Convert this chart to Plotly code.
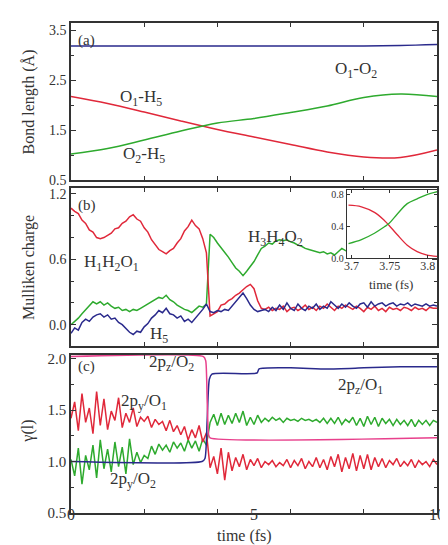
import numpy as np
import plotly.graph_objects as go

FONT = "Liberation Serif"
RED = "#e0283a"
GREEN = "#2eaa2e"
BLUE = "#2a2a8c"
MAGENTA = "#e8408c"
AX = "#333333"

# ---------------- panel (a): bond lengths ----------------
t_a = [0, 1, 2, 3, 4, 5, 6, 7, 8, 9, 10]
o1_o2 = [3.18, 3.18, 3.18, 3.18, 3.18, 3.18, 3.18, 3.18, 3.18, 3.19, 3.21]
o1_h5 = [2.17, 2.03, 1.86, 1.68, 1.51, 1.36, 1.21, 1.06, 0.96, 0.95, 1.10]
o2_h5 = [1.02, 1.13, 1.30, 1.48, 1.64, 1.73, 1.85, 1.98, 2.15, 2.22, 2.17]

# ---------------- panel (b): Mulliken charge ----------------
t_b = np.round(np.arange(0, 10.001, 0.1), 2)
h1h2o1 = [1.07, 1.04, 1.02, 0.96, 0.93, 0.87, 0.85, 0.80, 0.79, 0.80,
          0.82, 0.84, 0.88, 0.89, 0.93, 0.95, 0.99, 1.01, 0.97, 0.95,
          0.89, 0.85, 0.78, 0.74, 0.69, 0.67, 0.65, 0.68, 0.70, 0.75,
          0.79, 0.86, 0.90, 0.96, 0.91, 0.88, 0.79, 0.66, 0.08, 0.10,
          0.12, 0.18, 0.19, 0.22, 0.24, 0.27, 0.29, 0.32, 0.35, 0.37,
          0.33, 0.22, 0.15,
          0.14, 0.16, 0.13, 0.15, 0.14, 0.17, 0.12, 0.15, 0.16, 0.13,
          0.15, 0.18, 0.14, 0.16, 0.13, 0.17, 0.15, 0.19, 0.16, 0.13,
          0.17, 0.15, 0.18, 0.16, 0.14, 0.17, 0.15, 0.12, 0.16, 0.14,
          0.17, 0.13, 0.15, 0.12, 0.16, 0.14, 0.15, 0.13, 0.16, 0.15,
          0.13, 0.16, 0.14, 0.15, 0.13, 0.16, 0.15, 0.15]
h3h4o2 = [0.00, 0.03, 0.06, 0.10, 0.14, 0.18, 0.21, 0.19, 0.21, 0.18,
          0.20, 0.17, 0.15, 0.16, 0.13, 0.14, 0.12, 0.14, 0.13, 0.15,
          0.17, 0.19, 0.21, 0.23, 0.25, 0.24, 0.27, 0.23, 0.21, 0.18,
          0.16, 0.14, 0.13, 0.11, 0.14, 0.17, 0.16, 0.19,
          0.83, 0.80, 0.75, 0.71, 0.66, 0.62, 0.57, 0.52, 0.49, 0.45,
          0.49, 0.53, 0.58, 0.64, 0.70, 0.72, 0.75, 0.74, 0.77, 0.78,
          0.77, 0.78, 0.76, 0.75, 0.73, 0.72, 0.70, 0.69, 0.68, 0.67,
          0.66, 0.67, 0.65, 0.66, 0.64, 0.67, 0.70, 0.68,
          0.67, 0.66, 0.68, 0.65, 0.67, 0.66, 0.64, 0.66, 0.67, 0.65,
          0.66, 0.64, 0.66, 0.65, 0.67, 0.66, 0.64, 0.65, 0.66, 0.64,
          0.65, 0.66, 0.65, 0.64, 0.65]
h5 = [-0.08, -0.03, -0.05, 0.02, 0.05, 0.03, 0.07, 0.09, 0.10, 0.07,
      0.09, 0.05, 0.06, 0.02, 0.00, -0.04, -0.07, -0.09, -0.06, -0.07,
      -0.02, 0.01, 0.06, 0.09, 0.13, 0.11, 0.15, 0.10, 0.09, 0.06,
      0.08, 0.03, 0.05, 0.02, 0.06, 0.09, 0.14, 0.19, 0.12, 0.11,
      0.13, 0.12, 0.14, 0.13, 0.17, 0.22, 0.26, 0.29, 0.24, 0.18,
      0.14, 0.12, 0.13,
      0.14, 0.12, 0.16, 0.13, 0.18, 0.14, 0.20, 0.15, 0.13, 0.19,
      0.15, 0.13, 0.17, 0.15, 0.19, 0.14, 0.17, 0.15, 0.21, 0.18,
      0.15, 0.19, 0.16, 0.20, 0.17, 0.15, 0.19, 0.20, 0.16, 0.21,
      0.17, 0.19, 0.20, 0.17, 0.19, 0.20, 0.17, 0.19, 0.18, 0.20,
      0.17, 0.19, 0.18, 0.17, 0.19, 0.17, 0.18, 0.17]

# inset (b): zoom of the transfer
t_in = [3.696, 3.713, 3.730, 3.743, 3.749, 3.760, 3.773, 3.786, 3.798, 3.813]
in_red = [0.66, 0.64, 0.57, 0.47, 0.41, 0.29, 0.16, 0.08, 0.04, 0.02]
in_green = [0.18, 0.23, 0.31, 0.39, 0.43, 0.55, 0.68, 0.74, 0.79, 0.83]

# ---------------- panel (c): gamma(l) ----------------
t_c = np.round(np.arange(0, 10.001, 0.1), 2)
py_o1 = [1.42, 1.58, 1.30, 1.66, 1.38, 1.52, 1.27, 1.68, 1.35, 1.61,
         1.31, 1.49, 1.40, 1.62, 1.33, 1.47, 1.38, 1.52, 1.34, 1.43,
         1.39, 1.44, 1.33, 1.41, 1.36, 1.39, 1.30, 1.40, 1.29, 1.35,
         1.26, 1.34, 1.21, 1.31, 1.23, 1.35, 1.19, 1.28, 0.94, 1.05,
         0.88, 1.13, 0.82, 1.09, 0.91, 1.04, 0.95, 1.07, 0.92, 1.02,
         0.96, 1.03, 0.94, 1.00, 0.97, 1.01, 0.95, 0.99, 0.96, 1.02,
         0.94, 1.01, 0.96, 1.03, 0.93, 1.00, 0.95, 1.04, 0.94, 1.02,
         0.92, 1.05, 0.95, 1.07, 0.90, 1.04, 0.93, 1.08, 0.91, 1.06,
         0.93, 1.07, 0.92, 1.04, 0.95, 1.03, 0.94, 1.01, 0.97, 1.03,
         0.95, 1.00, 0.96, 1.02, 0.94, 1.01, 0.97, 1.00, 0.95, 1.02,
         0.97]
py_o2 = [1.02, 0.86, 1.13, 0.78, 1.06, 0.92, 1.16, 0.84, 1.21, 0.93,
         1.12, 0.90, 1.19, 0.95, 1.14, 0.88, 1.22, 0.97, 1.09, 0.99,
         1.06, 1.03, 1.15, 1.07, 1.17, 1.11, 1.16, 1.09, 1.19, 1.13,
         1.18, 1.10, 1.21, 1.13, 1.20, 1.10, 1.22, 1.16, 1.38, 1.46,
         1.35, 1.47, 1.36, 1.45, 1.37, 1.47, 1.38, 1.49, 1.35, 1.43,
         1.36, 1.45, 1.38, 1.42, 1.39, 1.43, 1.40, 1.42, 1.38, 1.42,
         1.40, 1.41, 1.39, 1.42, 1.40, 1.41, 1.39, 1.41, 1.38, 1.42,
         1.37, 1.42, 1.37, 1.43, 1.36, 1.41, 1.38, 1.43, 1.35, 1.42,
         1.34, 1.44, 1.36, 1.43, 1.34, 1.42, 1.37, 1.41, 1.35, 1.41,
         1.36, 1.40, 1.35, 1.41, 1.34, 1.40, 1.36, 1.40, 1.35, 1.40,
         1.38]
t_pz2 = [0, 3.62, 3.68, 3.72, 3.76, 3.80, 10]
pz_o2 = [2.02, 2.02, 1.98, 1.60, 1.26, 1.23, 1.23]
t_pz1 = [0, 3.58, 3.66, 3.72, 3.78, 3.85, 5.08, 5.14, 6, 7, 8, 9, 10]
pz_o1 = [1.00, 1.00, 1.03, 1.40, 1.80, 1.85, 1.86, 1.90, 1.91, 1.90, 1.91, 1.92, 1.92]

# ---------------- figure ----------------
fig = go.Figure()
line = lambda c: dict(color=c, width=1.5)

fig.add_trace(go.Scatter(x=t_a, y=o1_o2, mode="lines", line=dict(color=BLUE, width=1.5, shape="spline"), xaxis="x", yaxis="y"))
fig.add_trace(go.Scatter(x=t_a, y=o1_h5, mode="lines", line=dict(color=RED, width=1.5, shape="spline"), xaxis="x", yaxis="y"))
fig.add_trace(go.Scatter(x=t_a, y=o2_h5, mode="lines", line=dict(color=GREEN, width=1.5, shape="spline"), xaxis="x", yaxis="y"))

fig.add_trace(go.Scatter(x=t_b, y=h3h4o2, mode="lines", line=line(GREEN), xaxis="x2", yaxis="y2"))
fig.add_trace(go.Scatter(x=t_b, y=h1h2o1, mode="lines", line=line(RED), xaxis="x2", yaxis="y2"))
fig.add_trace(go.Scatter(x=t_b, y=h5, mode="lines", line=line(BLUE), xaxis="x2", yaxis="y2"))

fig.add_trace(go.Scatter(x=t_c, y=py_o2, mode="lines", line=line(GREEN), xaxis="x3", yaxis="y3"))
fig.add_trace(go.Scatter(x=t_c, y=py_o1, mode="lines", line=line(RED), xaxis="x3", yaxis="y3"))
fig.add_trace(go.Scatter(x=t_pz1, y=pz_o1, mode="lines", line=dict(color=BLUE, width=1.5, shape="spline", smoothing=0.6), xaxis="x3", yaxis="y3"))
fig.add_trace(go.Scatter(x=t_pz2, y=pz_o2, mode="lines", line=dict(color=MAGENTA, width=1.5, shape="spline", smoothing=0.6), xaxis="x3", yaxis="y3"))

fig.add_trace(go.Scatter(x=t_in, y=in_red, mode="lines", line=dict(color=RED, width=1.3, shape="spline"), xaxis="x4", yaxis="y4"))
fig.add_trace(go.Scatter(x=t_in, y=in_green, mode="lines", line=dict(color=GREEN, width=1.3, shape="spline"), xaxis="x4", yaxis="y4"))

common_x = dict(range=[0, 10], showline=True, linecolor=AX, linewidth=1.5, mirror="allticks",
                tickvals=[0, 5, 10], ticks="", showgrid=False, zeroline=False,
                minor=dict(tickvals=[2, 4, 6, 8], ticks="inside", ticklen=4, tickcolor=AX, tickwidth=1.2, showgrid=False),
                tickfont=dict(family=FONT, size=16, color=AX))

def yax(rng, vals, minor_vals, dom, text=None, size=14):
    return dict(range=rng, domain=dom, tickvals=vals, ticktext=text, ticks="inside", ticklen=5,
                tickcolor=AX, tickwidth=1.2, showline=True, linecolor=AX, linewidth=1.5,
                mirror="allticks", showgrid=False, zeroline=False,
                tickfont=dict(family=FONT, size=size, color=AX),
                minor=dict(tickvals=minor_vals, ticks="inside", ticklen=3, tickcolor=AX, tickwidth=1.0, showgrid=False))

H = 490.0
dom_a = [(505 - 172) / H, 1.0]
dom_b = [(505 - 338) / H, (505 - 180) / H]
dom_c = [0.0, (505 - 347) / H]

fig.update_layout(
    width=448, height=545,
    margin=dict(l=63, r=11, t=15, b=40),
    paper_bgcolor="white", plot_bgcolor="white",
    showlegend=False,
    font=dict(family=FONT, color=AX),
    xaxis=dict(common_x, anchor="y", showticklabels=False),
    xaxis2=dict(common_x, anchor="y2", showticklabels=False),
    xaxis3=dict(common_x, anchor="y3", showticklabels=True, ticklabelstandoff=-14),
    yaxis=yax([0.5, 3.64], [0.5, 1.5, 2.5, 3.5], [1.0, 2.0, 3.0], dom_a),
    yaxis2=yax([-0.196, 1.255], [0.0, 0.6, 1.2], [0.2, 0.4, 0.8, 1.0], dom_b, ["0.0", "0.6", "1.2"]),
    yaxis3=yax([0.5, 2.035], [0.5, 1.0, 1.5, 2.0], [0.75, 1.25, 1.75], dom_c, ["0.5", "1.0", "1.5", "2.0"], size=15),
    xaxis4=dict(range=[3.694, 3.812], domain=[(345 - 63) / 374.0, 1.0], anchor="y4",
                tickvals=[3.7, 3.75, 3.8], ticktext=["3.7", "3.75", "3.8"], ticks="inside", ticklen=3,
                tickcolor=AX, showline=True, linecolor=AX, linewidth=1.3, mirror="allticks",
                showgrid=False, zeroline=False, tickfont=dict(family=FONT, size=12, color=AX),
                ticklabelstandoff=-4),
    yaxis4=dict(range=[0, 0.85], domain=[(505 - 250) / H, (505 - 182) / H], anchor="x4",
                tickvals=[0.0, 0.4, 0.8], ticktext=["0.0", "0.4", "0.8"], ticks="inside", ticklen=3,
                tickcolor=AX, showline=True, linecolor=AX, linewidth=1.3, mirror="allticks",
                showgrid=False, zeroline=False, tickfont=dict(family=FONT, size=10, color=AX)),
)

ann = []
def A(text, x, y, xref, yref, size=17, **kw):
    d = dict(text=text, x=x, y=y, xref=xref, yref=yref, showarrow=False,
             xanchor="center", yanchor="middle",
             font=dict(family=FONT, size=size, color=AX))
    d.update(kw)
    ann.append(d)

# axis titles
A("Bond length (Å)", -0.115, (dom_a[0] + dom_a[1]) / 2, "paper", "paper", size=16, textangle=-90)
A("Mulliken charge", -0.115, (dom_b[0] + dom_b[1]) / 2, "paper", "paper", size=16, textangle=-90)
A("γ(l)", -0.12, (dom_c[0] + dom_c[1]) / 2 + 0.005, "paper", "paper", size=16, textangle=-90)
A("time (fs)", 0.473, (505 - 528) / H, "paper", "paper", size=16)
A("time (fs)", 0.875, (505 - 276) / H, "paper", "paper", size=13)

# panel letters
A("(a)", 0.015, 0.89, "x domain", "y domain", size=15, xanchor="left")
A("(b)", 0.013, 0.89, "x2 domain", "y2 domain", size=15, xanchor="left")
A("(c)", 0.013, 0.93, "x3 domain", "y3 domain", size=15, xanchor="left")

# curve labels
A("O<sub>1</sub>-O<sub>2</sub>", 7.8, 2.71, "x", "y")
A("O<sub>1</sub>-H<sub>5</sub>", 1.9, 2.14, "x", "y")
A("O<sub>2</sub>-H<sub>5</sub>", 2.0, 1.0, "x", "y")
A("H<sub>1</sub>H<sub>2</sub>O<sub>1</sub>", 1.1, 0.57, "x2", "y2")
A("H<sub>3</sub>H<sub>4</sub>O<sub>2</sub>", 5.6, 0.80, "x2", "y2")
A("H<sub>5</sub>", 2.4, -0.095, "x2", "y2")
A("2p<sub>z</sub>/O<sub>2</sub>", 2.75, 1.96, "x3", "y3")
A("2p<sub>z</sub>/O<sub>1</sub>", 7.9, 1.73, "x3", "y3")
A("2p<sub>y</sub>/O<sub>1</sub>", 2.0, 1.58, "x3", "y3")
A("2p<sub>y</sub>/O<sub>2</sub>", 1.7, 0.82, "x3", "y3")

fig.update_layout(annotations=ann)
fig.write_html("out.html")
